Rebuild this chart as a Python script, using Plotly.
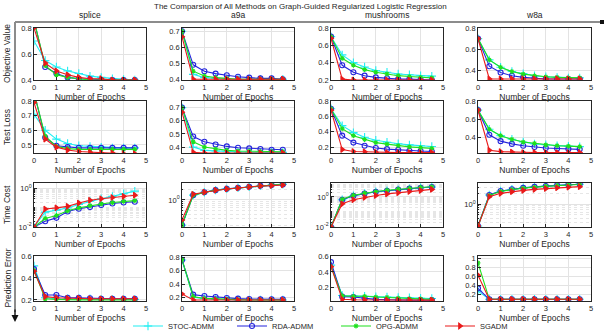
import plotly.graph_objects as go

W, H = 605, 334
epochs = [0, 0.5, 1, 1.5, 2, 2.5, 3, 3.5, 4, 4.5]
methods = ["STOC-ADMM", "RDA-ADMM", "OPG-ADMM", "SGADM"]
datasets = ["splice", "a9a", "mushrooms", "w8a"]
metrics = ["Objective Value", "Test Loss", "Time Cost", "Prediction Error"]
title = "The Comparsion of All Methods on Graph-Guided Regularized Logistic Regression"

# ---- Objective Value ----
obj_splice_stoc = [0.70, 0.55, 0.50, 0.47, 0.45, 0.43, 0.42, 0.41, 0.405, 0.40]
obj_splice_rda = [0.86, 0.50, 0.45, 0.42, 0.41, 0.405, 0.40, 0.40, 0.40, 0.40]
obj_splice_opg = [0.86, 0.51, 0.44, 0.42, 0.41, 0.40, 0.40, 0.40, 0.40, 0.40]
obj_splice_sgadm = [0.80, 0.53, 0.47, 0.44, 0.42, 0.41, 0.41, 0.40, 0.40, 0.40]

obj_a9a_stoc = [0.70, 0.43, 0.41, 0.405, 0.40, 0.40, 0.40, 0.40, 0.40, 0.40]
obj_a9a_rda = [0.70, 0.49, 0.45, 0.435, 0.425, 0.415, 0.41, 0.405, 0.405, 0.40]
obj_a9a_opg = [0.70, 0.45, 0.42, 0.41, 0.405, 0.40, 0.40, 0.40, 0.40, 0.40]
obj_a9a_sgadm = [0.665, 0.40, 0.40, 0.40, 0.40, 0.40, 0.40, 0.40, 0.40, 0.40]

obj_mush_stoc = [0.70, 0.49, 0.40, 0.35, 0.31, 0.29, 0.27, 0.26, 0.25, 0.245]
obj_mush_rda = [0.70, 0.37, 0.29, 0.25, 0.23, 0.22, 0.21, 0.21, 0.205, 0.20]
obj_mush_opg = [0.70, 0.45, 0.37, 0.32, 0.29, 0.27, 0.25, 0.24, 0.23, 0.225]
obj_mush_sgadm = [0.68, 0.21, 0.20, 0.20, 0.20, 0.20, 0.20, 0.20, 0.20, 0.20]

obj_w8a_stoc = [0.70, 0.50, 0.43, 0.39, 0.37, 0.35, 0.34, 0.335, 0.33, 0.33]
obj_w8a_rda = [0.70, 0.44, 0.38, 0.35, 0.335, 0.325, 0.32, 0.32, 0.32, 0.32]
obj_w8a_opg = [0.70, 0.50, 0.43, 0.39, 0.365, 0.35, 0.34, 0.335, 0.33, 0.33]
obj_w8a_sgadm = [0.70, 0.32, 0.32, 0.32, 0.32, 0.32, 0.32, 0.32, 0.32, 0.32]

# ---- Test Loss ----
tl_splice_stoc = [0.71, 0.60, 0.54, 0.51, 0.495, 0.49, 0.485, 0.48, 0.48, 0.48]
tl_splice_rda = [0.86, 0.55, 0.495, 0.485, 0.48, 0.48, 0.48, 0.48, 0.48, 0.48]
tl_splice_opg = [0.86, 0.56, 0.49, 0.475, 0.47, 0.47, 0.47, 0.47, 0.47, 0.47]
tl_splice_sgadm = [0.79, 0.54, 0.485, 0.465, 0.455, 0.45, 0.445, 0.445, 0.44, 0.44]

tl_a9a_stoc = [0.70, 0.40, 0.375, 0.37, 0.365, 0.36, 0.36, 0.36, 0.36, 0.36]
tl_a9a_rda = [0.70, 0.48, 0.44, 0.42, 0.405, 0.395, 0.39, 0.385, 0.38, 0.38]
tl_a9a_opg = [0.70, 0.44, 0.40, 0.385, 0.375, 0.37, 0.37, 0.365, 0.365, 0.365]
tl_a9a_sgadm = [0.665, 0.36, 0.355, 0.355, 0.355, 0.355, 0.355, 0.355, 0.355, 0.355]

tl_mush_stoc = [0.70, 0.48, 0.39, 0.33, 0.29, 0.265, 0.245, 0.23, 0.22, 0.21]
tl_mush_rda = [0.70, 0.35, 0.26, 0.22, 0.19, 0.175, 0.165, 0.155, 0.15, 0.145]
tl_mush_opg = [0.70, 0.44, 0.35, 0.30, 0.26, 0.24, 0.22, 0.205, 0.195, 0.185]
tl_mush_sgadm = [0.68, 0.17, 0.145, 0.14, 0.135, 0.13, 0.13, 0.13, 0.13, 0.13]

tl_w8a_stoc = [0.70, 0.49, 0.42, 0.38, 0.35, 0.33, 0.32, 0.31, 0.305, 0.30]
tl_w8a_rda = [0.70, 0.43, 0.36, 0.33, 0.31, 0.295, 0.285, 0.28, 0.275, 0.27]
tl_w8a_opg = [0.70, 0.49, 0.42, 0.38, 0.35, 0.335, 0.32, 0.31, 0.305, 0.30]
tl_w8a_sgadm = [0.70, 0.26, 0.245, 0.24, 0.235, 0.235, 0.235, 0.235, 0.235, 0.235]

# ---- Time Cost ----
tc_splice_stoc = [0.01, 0.06, 0.075, 0.10, 0.15, 0.22, 0.30, 0.40, 0.55, 0.75]
tc_splice_rda = [0.01, 0.02, 0.03, 0.065, 0.09, 0.11, 0.14, 0.17, 0.19, 0.21]
tc_splice_opg = [0.01, 0.028, 0.04, 0.07, 0.10, 0.13, 0.16, 0.19, 0.22, 0.24]
tc_splice_sgadm = [0.01, 0.087, 0.10, 0.12, 0.18, 0.25, 0.30, 0.35, 0.40, 0.46]

tc_a9a_stoc = [0.20, 1.36, 1.63, 1.87, 2.03, 2.17, 2.32, 2.48, 2.58, 2.70]
tc_a9a_rda = [0.20, 1.36, 1.63, 1.87, 2.03, 2.17, 2.32, 2.48, 2.58, 2.70]
tc_a9a_opg = [0.20, 1.35, 1.62, 1.86, 2.02, 2.16, 2.32, 2.47, 2.58, 2.72]
tc_a9a_sgadm = [0.28, 1.44, 1.64, 1.86, 2.02, 2.15, 2.30, 2.45, 2.50, 2.60]

tc_mush_stoc = [0.01, 0.65, 1.2, 1.7, 2.2, 2.6, 3.1, 3.6, 4.1, 4.6]
tc_mush_rda = [0.01, 0.65, 1.2, 1.7, 2.2, 2.6, 3.1, 3.6, 4.1, 4.6]
tc_mush_opg = [0.01, 0.70, 1.3, 1.8, 2.3, 2.8, 3.3, 3.8, 4.3, 4.8]
tc_mush_sgadm = [0.01, 0.35, 0.65, 0.95, 1.25, 1.6, 1.9, 2.3, 2.7, 3.2]

tc_w8a_stoc = [0.24, 1.85, 2.4, 2.7, 2.95, 3.15, 3.35, 3.5, 3.62, 3.75]
tc_w8a_rda = [0.24, 1.85, 2.4, 2.7, 2.95, 3.15, 3.35, 3.5, 3.62, 3.75]
tc_w8a_opg = [0.24, 1.80, 2.35, 2.65, 2.9, 3.1, 3.3, 3.45, 3.58, 3.70]
tc_w8a_sgadm = [0.24, 1.65, 2.06, 2.3, 2.5, 2.68, 2.83, 2.97, 3.1, 3.2]

# ---- Prediction Error ----
pe_splice_stoc = [0.51, 0.22, 0.21, 0.21, 0.21, 0.21, 0.205, 0.205, 0.205, 0.205]
pe_splice_rda = [0.48, 0.245, 0.245, 0.22, 0.22, 0.215, 0.21, 0.21, 0.21, 0.21]
pe_splice_opg = [0.47, 0.21, 0.205, 0.20, 0.20, 0.20, 0.20, 0.20, 0.20, 0.20]
pe_splice_sgadm = [0.46, 0.23, 0.22, 0.215, 0.215, 0.21, 0.21, 0.21, 0.21, 0.21]

pe_a9a_stoc = [0.76, 0.20, 0.18, 0.17, 0.165, 0.16, 0.16, 0.16, 0.16, 0.16]
pe_a9a_rda = [0.76, 0.24, 0.22, 0.205, 0.19, 0.18, 0.175, 0.17, 0.17, 0.17]
pe_a9a_opg = [0.77, 0.21, 0.185, 0.175, 0.17, 0.165, 0.16, 0.16, 0.16, 0.16]
pe_a9a_sgadm = [0.25, 0.16, 0.16, 0.16, 0.16, 0.16, 0.16, 0.16, 0.16, 0.16]

pe_mush_stoc = [0.49, 0.09, 0.085, 0.08, 0.075, 0.07, 0.065, 0.06, 0.055, 0.05]
pe_mush_rda = [0.53, 0.075, 0.07, 0.055, 0.04, 0.035, 0.03, 0.03, 0.03, 0.03]
pe_mush_opg = [0.47, 0.085, 0.08, 0.08, 0.07, 0.065, 0.055, 0.05, 0.045, 0.04]
pe_mush_sgadm = [0.47, 0.04, 0.035, 0.035, 0.03, 0.03, 0.03, 0.03, 0.03, 0.03]

pe_w8a_stoc = [0.28, 0.10, 0.10, 0.10, 0.10, 0.10, 0.10, 0.10, 0.10, 0.10]
pe_w8a_rda = [0.34, 0.10, 0.10, 0.10, 0.10, 0.10, 0.10, 0.10, 0.10, 0.10]
pe_w8a_opg = [0.90, 0.10, 0.10, 0.10, 0.10, 0.10, 0.10, 0.10, 0.10, 0.10]
pe_w8a_sgadm = [0.63, 0.10, 0.10, 0.10, 0.10, 0.10, 0.10, 0.10, 0.10, 0.10]

data = [
    [[obj_splice_stoc, obj_splice_rda, obj_splice_opg, obj_splice_sgadm],
     [obj_a9a_stoc, obj_a9a_rda, obj_a9a_opg, obj_a9a_sgadm],
     [obj_mush_stoc, obj_mush_rda, obj_mush_opg, obj_mush_sgadm],
     [obj_w8a_stoc, obj_w8a_rda, obj_w8a_opg, obj_w8a_sgadm]],
    [[tl_splice_stoc, tl_splice_rda, tl_splice_opg, tl_splice_sgadm],
     [tl_a9a_stoc, tl_a9a_rda, tl_a9a_opg, tl_a9a_sgadm],
     [tl_mush_stoc, tl_mush_rda, tl_mush_opg, tl_mush_sgadm],
     [tl_w8a_stoc, tl_w8a_rda, tl_w8a_opg, tl_w8a_sgadm]],
    [[tc_splice_stoc, tc_splice_rda, tc_splice_opg, tc_splice_sgadm],
     [tc_a9a_stoc, tc_a9a_rda, tc_a9a_opg, tc_a9a_sgadm],
     [tc_mush_stoc, tc_mush_rda, tc_mush_opg, tc_mush_sgadm],
     [tc_w8a_stoc, tc_w8a_rda, tc_w8a_opg, tc_w8a_sgadm]],
    [[pe_splice_stoc, pe_splice_rda, pe_splice_opg, pe_splice_sgadm],
     [pe_a9a_stoc, pe_a9a_rda, pe_a9a_opg, pe_a9a_sgadm],
     [pe_mush_stoc, pe_mush_rda, pe_mush_opg, pe_mush_sgadm],
     [pe_w8a_stoc, pe_w8a_rda, pe_w8a_opg, pe_w8a_sgadm]],
]

# y ranges (linear values; log10 exponents for Time Cost row)
y_ranges = [
    [[0.4, 0.8], [0.395, 0.72], [0.2, 0.8], [0.31, 0.8]],
    [[0.445, 0.8], [0.355, 0.75], [0.125, 0.8], [0.23, 0.8]],
    [[-2, 0.3], [-0.75, 0.47], [-2, 0.93], [-0.65, 0.61]],
    [[0.19, 0.6], [0.145, 0.82], [0.018, 0.61], [0.063, 1.05]],
]
y_ticks = [
    [[0.4, 0.6, 0.8], [0.4, 0.5, 0.6, 0.7], [0.2, 0.4, 0.6, 0.8], [0.4, 0.6, 0.8]],
    [[0.5, 0.6, 0.7, 0.8], [0.4, 0.5, 0.6, 0.7], [0.2, 0.4, 0.6, 0.8], [0.4, 0.6, 0.8]],
    [[0.01, 1], [1], [0.01, 1], [1]],
    [[0.2, 0.4, 0.6], [0.2, 0.4, 0.6, 0.8], [0.2, 0.4, 0.6], [0.2, 0.4, 0.6, 0.8, 1]],
]
log_tick_text = {0.01: "10<sup>-2</sup>", 1: "10<sup>0</sup>"}

colors = ["#22EEF2", "#2424DC", "#1EE01E", "#EA1A1A"]
symbols = ["cross-thin-open", "circle-open", "asterisk-open", "triangle-right"]
msizes = [6, 5, 4, 5]

col_px = [(34, 146), (182, 294), (331, 443), (478, 591)]
row_px = [(28, 80), (101, 153), (183, 227), (256, 301)]

FONT = "Liberation Sans, Arial, sans-serif"
fig = go.Figure()
layout = {}
for r in range(4):
    for c in range(4):
        k = r * 4 + c + 1
        xa = "xaxis" if k == 1 else f"xaxis{k}"
        ya = "yaxis" if k == 1 else f"yaxis{k}"
        xref = "x" if k == 1 else f"x{k}"
        yref = "y" if k == 1 else f"y{k}"
        for m in range(4):
            fig.add_trace(go.Scatter(
                x=epochs, y=data[r][c][m], xaxis=xref, yaxis=yref,
                mode="lines+markers", name=methods[m],
                showlegend=(k == 1), legendgroup=methods[m],
                line=dict(color=colors[m], width=1.1),
                marker=dict(symbol=symbols[m], size=msizes[m], color=colors[m],
                            line=dict(color=colors[m], width=1.1)),
                cliponaxis=True,
            ))
        x0, x1 = col_px[c]
        t0, t1 = row_px[r]
        axcommon = dict(showline=True, mirror=True, linecolor="#262626", linewidth=0.8,
                        ticks="inside", ticklen=3, tickcolor="#262626", tickwidth=0.8,
                        showgrid=True, gridcolor="#E3E3E3", gridwidth=0.8, zeroline=False,
                        tickfont=dict(family=FONT, size=7.5, color="#262626"))
        layout[xa] = dict(domain=[x0 / W, x1 / W], anchor=yref, range=[0, 5],
                          tickvals=[0, 1, 2, 3, 4, 5],
                          title=dict(text="Number of Epochs", standoff=2,
                                     font=dict(family=FONT, size=8.5, color="#262626")),
                          **axcommon)
        yd = dict(domain=[1 - t1 / H, 1 - t0 / H], anchor=xref, range=y_ranges[r][c],
                  tickvals=y_ticks[r][c], **axcommon)
        if r == 2:
            yd["type"] = "log"
            yd["ticktext"] = [log_tick_text[v] for v in y_ticks[r][c]]
            yd["minor"] = dict(showgrid=True, gridcolor="#E6E6E6", griddash="dot",
                               gridwidth=0.6, ticks="inside", ticklen=1.5, dtick="D1")
        else:
            yd["ticktext"] = [f"{v:g}" for v in y_ticks[r][c]]
        layout[ya] = yd

annotations = []
annotations.append(dict(text=title, x=300 / W, y=1 - 6 / H, xref="paper", yref="paper",
                        xanchor="center", yanchor="middle",
                        showarrow=False, font=dict(family=FONT, size=8, color="#262626")))
for c, name in enumerate(datasets):
    annotations.append(dict(text=name, x=(col_px[c][0] + col_px[c][1]) / 2 / W, y=1 - 15 / H,
                            xref="paper", yref="paper", showarrow=False,
                            xanchor="center", yanchor="middle",
                            font=dict(family=FONT, size=8.5, color="#262626")))
for r, name in enumerate(metrics):
    annotations.append(dict(text=name, x=7 / W, y=1 - (row_px[r][0] + row_px[r][1]) / 2 / H,
                            xref="paper", yref="paper", showarrow=False, textangle=-90,
                            xanchor="center", yanchor="middle",
                            font=dict(family=FONT, size=8.5, color="#262626")))
# arrowhead at end of the vertical framing line
annotations.append(dict(x=15 / W, y=1 - 322 / H, ax=0, ay=-14, xref="paper", yref="paper",
                        axref="pixel", ayref="pixel", text="", showarrow=True, arrowhead=2,
                        arrowsize=1, arrowwidth=1.4, arrowcolor="#111111"))

shapes = [
    dict(type="line", xref="paper", yref="paper", x0=15 / W, x1=602 / W, y0=1 - 22 / H, y1=1 - 22 / H,
         line=dict(color="#8C8C8C", width=2)),
    dict(type="line", xref="paper", yref="paper", x0=15 / W, x1=15 / W, y0=1 - 22 / H, y1=1 - 312 / H,
         line=dict(color="#8C8C8C", width=2)),
    dict(type="rect", xref="paper", yref="paper", x0=600 / W, x1=604 / W, y0=1 - 20 / H, y1=1 - 24 / H,
         fillcolor="#111111", line=dict(width=0)),
]

fig.update_layout(
    width=W, height=H, margin=dict(l=0, r=0, t=0, b=0, autoexpand=False),
    paper_bgcolor="white", plot_bgcolor="white",
    font=dict(family=FONT, size=8, color="#262626"),
    annotations=annotations, shapes=shapes,
    legend=dict(orientation="h", x=128 / W, y=1 - 326 / H, xanchor="left", yanchor="middle",
                entrywidth=59, entrywidthmode="pixels", font=dict(family=FONT, size=7.5, color="#262626"),
                bgcolor="rgba(0,0,0,0)", itemwidth=30, tracegroupgap=0),
    **layout,
)
fig.write_html("out.html")
